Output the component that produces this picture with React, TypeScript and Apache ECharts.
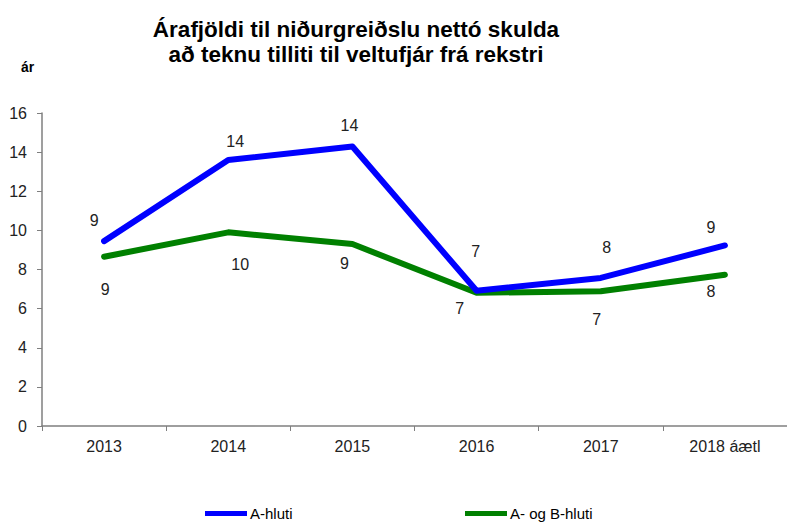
import React, { useEffect, useRef } from "react";
import * as echarts from "echarts";

const categories = ["2013", "2014", "2015", "2016", "2017", "2018 áætl"];
const seriesNames = ["A-hluti", "A- og B-hluti"];
const aHluti = [9.45, 13.6, 14.29, 6.91, 7.57, 9.23];
const aogbHluti = [8.65, 9.9, 9.3, 6.81, 6.89, 7.73];
const yTicks = { min: 0, max: 16, interval: 2 };

// label offsets (styling only)
const aOffsets = [[-10, -21], [7, -18], [-3, -21], [-1, -39], [6, -30], [-14, -18]];
const bOffsets = [[1, 33], [12, 32], [-8, 19], [-17, 16], [-4, 28], [-14, 17]];

const FONT = "Liberation Sans, Arial, sans-serif";
const BLUE = "#0000ff";
const GREEN = "#008000";

export default function App() {
  const ref = useRef<HTMLDivElement>(null);
  useEffect(() => {
    const chart = echarts.init(ref.current!, null, { renderer: "svg" });
    const mk = (vals: number[], offs: number[][]) =>
      vals.map((v, i) => ({
        value: v,
        label: {
          show: true,
          position: "inside",
          offset: offs[i],
          fontFamily: FONT,
          fontSize: 16,
          color: "#222",
          formatter: String(Math.round(v)),
        },
      }));
    chart.setOption({
      animation: false,
      backgroundColor: "#fff",
      textStyle: { fontFamily: FONT },
      title: [
        {
          text: "Árafjöldi til niðurgreiðslu nettó skulda\nað teknu tilliti til veltufjár frá rekstri",
          left: 351,
          top: 12,
          textAlign: "center",
          textStyle: { fontFamily: FONT, fontSize: 22.5, fontWeight: "bold", color: "#000", lineHeight: 25 },
        },
        {
          text: "ár",
          left: 16,
          top: 55,
          textStyle: { fontFamily: FONT, fontSize: 14, fontWeight: "bold", color: "#000" },
        },
      ],
      legend: [
        {
          data: [{ name: seriesNames[0], itemStyle: { color: BLUE, opacity: 1 } }],
          left: 205,
          top: 506,
          padding: 0,
          icon: "rect",
          itemWidth: 42,
          itemHeight: 5,
          textStyle: { fontFamily: FONT, fontSize: 15, color: "#000", padding: [0, 0, 0, -2] },
        },
        {
          data: [{ name: seriesNames[1], itemStyle: { color: GREEN, opacity: 1 } }],
          left: 465,
          top: 506,
          padding: 0,
          icon: "rect",
          itemWidth: 42,
          itemHeight: 5,
          textStyle: { fontFamily: FONT, fontSize: 15, color: "#000", padding: [0, 0, 0, -2] },
        },
      ],
      grid: { left: 42, top: 113, width: 754, height: 313, containLabel: false },
      xAxis: {
        type: "category",
        data: categories,
        boundaryGap: true,
        axisLine: { lineStyle: { color: "#7f7f7f", width: 1.5 } },
        axisTick: { show: true, length: 5, lineStyle: { color: "#7f7f7f" } },
        axisLabel: { fontFamily: FONT, fontSize: 16, color: "#222", margin: 12 },
      },
      yAxis: {
        type: "value",
        min: yTicks.min,
        max: yTicks.max,
        interval: yTicks.interval,
        axisLine: { show: true, lineStyle: { color: "#7f7f7f", width: 1.5 } },
        axisTick: { show: true, length: 5, lineStyle: { color: "#7f7f7f" } },
        splitLine: { show: false },
        axisLabel: { fontFamily: FONT, fontSize: 16, color: "#222", margin: 15 },
      },
      series: [
        {
          name: seriesNames[0],
          type: "line",
          data: mk(aHluti, aOffsets),
          symbol: "circle",
          symbolSize: 3,
          showSymbol: true,
          showAllSymbol: true,
          lineStyle: { color: BLUE, width: 6, cap: "round", join: "round" },
          itemStyle: { color: BLUE },
          z: 3,
        },
        {
          name: seriesNames[1],
          type: "line",
          data: mk(aogbHluti, bOffsets),
          symbol: "circle",
          symbolSize: 3,
          showSymbol: true,
          showAllSymbol: true,
          lineStyle: { color: GREEN, width: 6, cap: "round", join: "round" },
          itemStyle: { color: GREEN },
          z: 2,
        },
      ],
    });
    return () => chart.dispose();
  }, []);
  return (
    <div
      ref={ref}
      style={{ position: "fixed", left: 0, top: 0, width: 787, height: 523, background: "#fff" }}
    />
  );
}
